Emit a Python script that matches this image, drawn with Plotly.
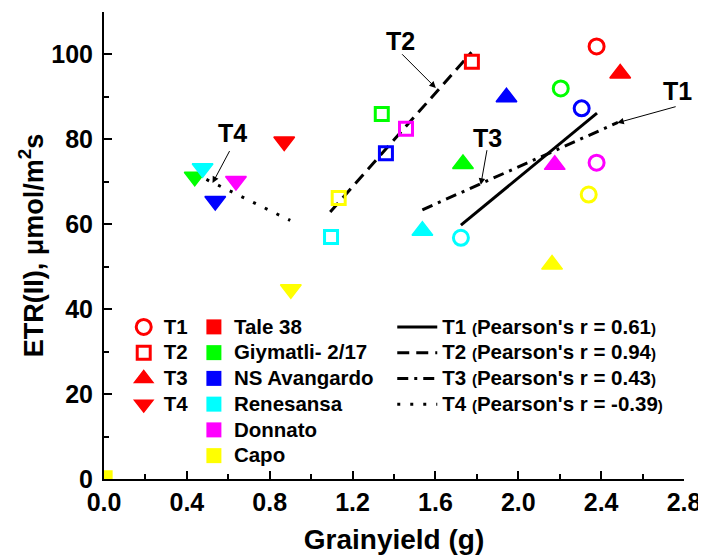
import plotly.graph_objects as go

# ---------------- data ----------------
varieties = ["Tale 38", "Giymatli- 2/17", "NS Avangardo", "Renesansa", "Donnato", "Capo"]
variety_colors = ["#FF0000", "#00FF00", "#0000FF", "#00FFFF", "#FF00FF", "#FFFF00"]
treatments = ["T1", "T2", "T3", "T4"]

# values in variety order: Tale 38, Giymatli, NS Avangardo, Renesansa, Donnato, Capo
t1_yield = [2.378, 2.205, 2.306, 1.723, 2.378, 2.340]
t1_etr = [101.9, 92.0, 87.3, 56.8, 74.5, 67.0]
t2_yield = [1.776, 1.341, 1.361, 1.096, 1.458, 1.133]
t2_etr = [98.3, 86.0, 76.7, 57.0, 82.5, 66.2]
t3_yield = [2.492, 1.733, 1.943, 1.537, 2.176, 2.163]
t3_etr = [95.5, 74.2, 89.9, 58.5, 74.0, 50.5]
t4_yield = [0.870, 0.438, 0.537, 0.476, 0.637, 0.902]
t4_etr = [79.5, 71.2, 65.5, 73.2, 70.2, 44.7]

# extra point near the origin
origin_x = [0.02]
origin_y = [1.0]

# linear fit lines (end points)
t1_fit_x = [1.723, 2.380]
t1_fit_y = [59.8, 86.2]
t2_fit_x = [1.092, 1.774]
t2_fit_y = [62.9, 100.5]
t3_fit_x = [1.537, 2.481]
t3_fit_y = [63.4, 84.0]
t4_fit_x = [0.438, 0.899]
t4_fit_y = [71.9, 60.9]

pearson_r = ["0.61", "0.94", "0.43", "-0.39"]

x_ticks = [0.0, 0.4, 0.8, 1.2, 1.6, 2.0, 2.4, 2.8]
y_ticks = [0, 20, 40, 60, 80, 100]

# ---------------- figure ----------------
FONT = "Liberation Sans, Arial, sans-serif"
fig = go.Figure()

big = "<span style='font-size:20.5px'>"
small = "<span style='font-size:15px'>"

fits = [(t1_fit_x, t1_fit_y, "solid"),
        (t2_fit_x, t2_fit_y, "12px,7px"),
        (t3_fit_x, t3_fit_y, "11px,6px,3px,6px"),
        (t4_fit_x, t4_fit_y, "3px,10px")]
for i, (fx, fy, dash) in enumerate(fits):
    name = (f"{big}{treatments[i]} </span>{small}(</span>{big}Pearson's r = "
            f"{pearson_r[i]}</span>{small})</span>")
    fig.add_trace(go.Scatter(x=fx, y=fy, mode="lines", name=name,
                             line=dict(color="black", width=3, dash=dash),
                             legend="legend3", hoverinfo="skip"))

series = [
    (t1_yield, t1_etr, "circle-open", 15, 3),
    (t2_yield, t2_etr, "square-open", 13, 3),
    (t3_yield, t3_etr, "triangle-up", 18, 1.5),
    (t4_yield, t4_etr, "triangle-down", 18, 1.5),
]
for i, (xs, ys, sym, sz, lw) in enumerate(series):
    fig.add_trace(go.Scatter(
        x=xs, y=ys, mode="markers", name=f"{big}{treatments[i]}</span>", legend="legend",
        marker=dict(symbol=sym, size=sz, color=variety_colors,
                    line=dict(color=variety_colors, width=lw)),
        cliponaxis=False))

for v, c in zip(varieties, variety_colors):
    fig.add_trace(go.Scatter(x=[None], y=[None], mode="markers", name=f"{big}{v}</span>",
                             legend="legend2",
                             marker=dict(symbol="square", size=15, color=c)))

fig.add_trace(go.Scatter(x=origin_x, y=origin_y, mode="markers", showlegend=False,
                         marker=dict(symbol="square", size=9, color=variety_colors[5]),
                         cliponaxis=False))

# annotations (labels + arrows)
ann_font = dict(family=FONT, size=25, color="black", weight="bold")
labels = [("T1", 2.769, 91.3), ("T2", 1.429, 103.1), ("T3", 1.850, 80.4), ("T4", 0.618, 81.5)]
for t, x, y in labels:
    fig.add_annotation(x=x, y=y, text=t, showarrow=False, font=ann_font)
arrows = [((2.767, 87.8), (2.478, 83.9)),
          ((1.432, 100.4), (1.602, 92.1)),
          ((1.850, 77.8), (1.819, 69.3)),
          ((0.610, 77.6), (0.524, 69.7))]
for (tx, ty), (hx, hy) in arrows:
    fig.add_annotation(x=hx, y=hy, ax=tx, ay=ty, axref="x", ayref="y", text="",
                       showarrow=True, arrowhead=2, arrowsize=1.3, arrowwidth=1,
                       arrowcolor="black", standoff=0, startstandoff=0)

axis_common = dict(showline=True, linecolor="black", linewidth=2, mirror=False,
                   ticks="inside", ticklen=8, tickwidth=1.5, tickcolor="black",
                   showgrid=False, zeroline=False, automargin=False,
                   tickfont=dict(family=FONT, size=25, color="black", weight="bold"))

legend_common = dict(xanchor="left", yanchor="top", bgcolor="rgba(0,0,0,0)",
                     borderwidth=0,
                     font=dict(family=FONT, size=17.5, color="black", weight="bold"))

# the page body adds an 8px offset; the figure is sized so it fits the 706x555 view
fig.update_layout(
    width=698, height=547,
    margin=dict(l=96, r=22, t=4, b=76),
    paper_bgcolor="white", plot_bgcolor="white",
    font=dict(family=FONT, color="black"),
    xaxis=dict(range=[0, 2.8], tickvals=x_ticks, tickformat=".1f",
               minor=dict(dtick=0.2, tick0=0, ticks="inside", ticklen=5,
                          tickwidth=1.5, tickcolor="black"),
               title=dict(text="Grainyield (g)",
                          font=dict(family=FONT, size=28, color="black", weight="bold")),
               ticklabelstandoff=0,
               **axis_common),
    yaxis=dict(range=[0, 110], tickvals=y_ticks,
               minor=dict(dtick=10, tick0=0, ticks="inside", ticklen=5,
                          tickwidth=1.5, tickcolor="black"),
               title=dict(text="ETR(II), μmol/m<sup>2</sup>s", standoff=0,
                          font=dict(family=FONT, size=27, color="black", weight="bold")),
               ticklabelstandoff=4,
               **axis_common),
    legend=dict(x=0.034, y=0.364, **legend_common),
    legend2=dict(x=0.155, y=0.364, **legend_common),
    legend3=dict(x=0.497, y=0.364, itemwidth=40, **legend_common),
)

fig.write_html("out.html")
